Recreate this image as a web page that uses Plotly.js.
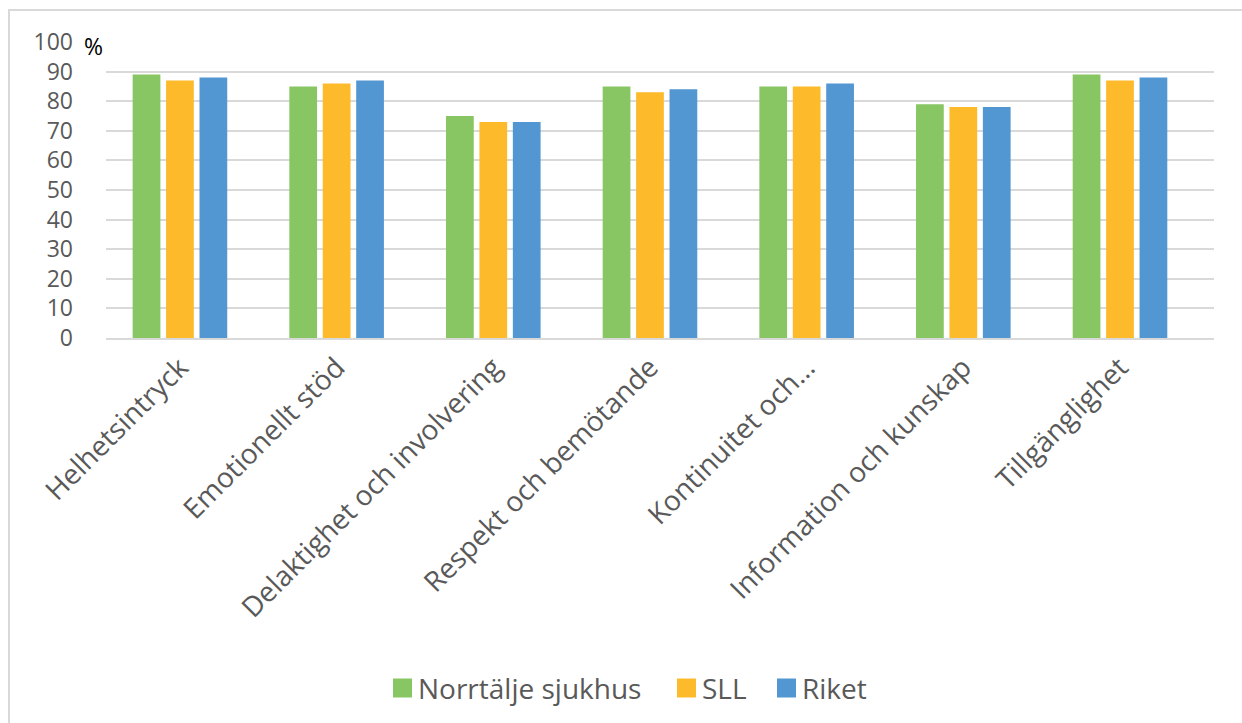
<!DOCTYPE html>
<html>
<head>
<meta charset="utf-8">
<script src="https://cdn.plot.ly/plotly-3.0.1.min.js"></script>
<style>
  html, body { margin: 0; padding: 0; background: #fff; }
  #wrap { position: relative; width: 1242px; height: 723px; }
  #chart { width: 1242px; height: 723px; }
  #frame { position: absolute; left: 8px; top: 9px; width: 1240px; height: 720px;
           border-left: 2px solid #d9d9d9; border-top: 2px solid #d9d9d9; pointer-events: none; }
</style>
</head>
<body>
<div id="wrap">
  <div id="chart"></div>
  <div id="frame"></div>
</div>
<script>
// Survey dimensions (category axis)
const categories = [
  "Helhetsintryck",
  "Emotionellt stöd",
  "Delaktighet och involvering",
  "Respekt och bemötande",
  "Kontinuitet och…",
  "Information och kunskap",
  "Tillgänglighet"
];

// Share of positive answers, percent
const norrtalje = [89, 85, 75, 85, 85, 79, 89];
const sll       = [87, 86, 73, 83, 85, 78, 87];
const riket     = [88, 87, 73, 84, 86, 78, 88];

const seriesNames = ["Norrtälje sjukhus", "SLL", "Riket"];
const seriesColors = ["#88c664", "#fdba2a", "#5296d2"];
const yTicks = [0, 10, 20, 30, 40, 50, 60, 70, 80, 90, 100];

const FONT = "'Open Sans', Lato, sans-serif";
const GREY = "#595959";

const idx = categories.map((_, i) => i);

const traces = [norrtalje, sll, riket].map((vals, k) => ({
  type: "bar",
  name: seriesNames[k],
  x: idx,
  y: vals,
  marker: { color: seriesColors[k] },
  hoverinfo: "skip",
  showlegend: false
}));

// Legend row under the chart: a square swatch followed by the series name.
// Page pixels are converted to paper coordinates of the 1108 x 296 px plot area.
const PW = 1108, PH = 296;
const plotLeft = 106, plotBottom = 338;
const legendSwatchLeft = [393, 677, 777];   // swatch left edges, page px
const legendRowCenter = 688;                 // row centre, page px from top
const px2x = p => (p - plotLeft) / PW;
const py2y = p => (plotBottom - p) / PH;

const legendShapes = seriesNames.map((_, k) => ({
  type: "rect",
  xref: "paper", yref: "paper",
  x0: px2x(legendSwatchLeft[k]), x1: px2x(legendSwatchLeft[k] + 19),
  y0: py2y(legendRowCenter + 9.5), y1: py2y(legendRowCenter - 9.5),
  fillcolor: seriesColors[k],
  line: { width: 0 }
}));

const legendLabels = seriesNames.map((name, k) => ({
  xref: "paper", yref: "paper",
  x: px2x(legendSwatchLeft[k] + 23),
  y: py2y(legendRowCenter),
  xanchor: "left", yanchor: "middle",
  text: name,
  showarrow: false,
  font: { family: FONT, color: GREY, size: 28 }
}));

const layout = {
  width: 1242,
  height: 723,
  margin: { l: 106, r: 28, t: 42, b: 385 },
  paper_bgcolor: "#ffffff",
  plot_bgcolor: "#ffffff",
  barmode: "group",
  bargap: 0.36,
  bargroupgap: 0.17,
  font: { family: FONT, color: GREY, size: 25 },
  xaxis: {
    range: [-0.472, 6.6],
    tickmode: "array",
    tickvals: idx,
    ticktext: categories,
    tickangle: -45,
    ticks: "",
    showgrid: false,
    showline: true,
    linecolor: "#d9d9d9",
    linewidth: 2,
    zeroline: false,
    tickfont: { family: FONT, color: GREY, size: 28 },
    fixedrange: true
  },
  yaxis: {
    range: [0, 100],
    tickmode: "array",
    tickvals: yTicks,
    ticktext: yTicks.map(String),
    showgrid: true,
    gridcolor: "#d9d9d9",
    gridwidth: 2,
    zeroline: false,
    showline: false,
    ticks: "",
    ticklabelstandoff: 32,
    tickfont: { family: FONT, color: GREY, size: 23 },
    fixedrange: true
  },
  showlegend: false,
  shapes: legendShapes,
  annotations: [{
    xref: "paper", yref: "paper",
    x: px2x(82), y: py2y(46),
    xanchor: "left", yanchor: "middle",
    text: "%",
    showarrow: false,
    font: { family: FONT, color: "#000000", size: 23 }
  }].concat(legendLabels)
};

Plotly.newPlot("chart", traces, layout, { staticPlot: true, displayModeBar: false });
</script>
</body>
</html>
